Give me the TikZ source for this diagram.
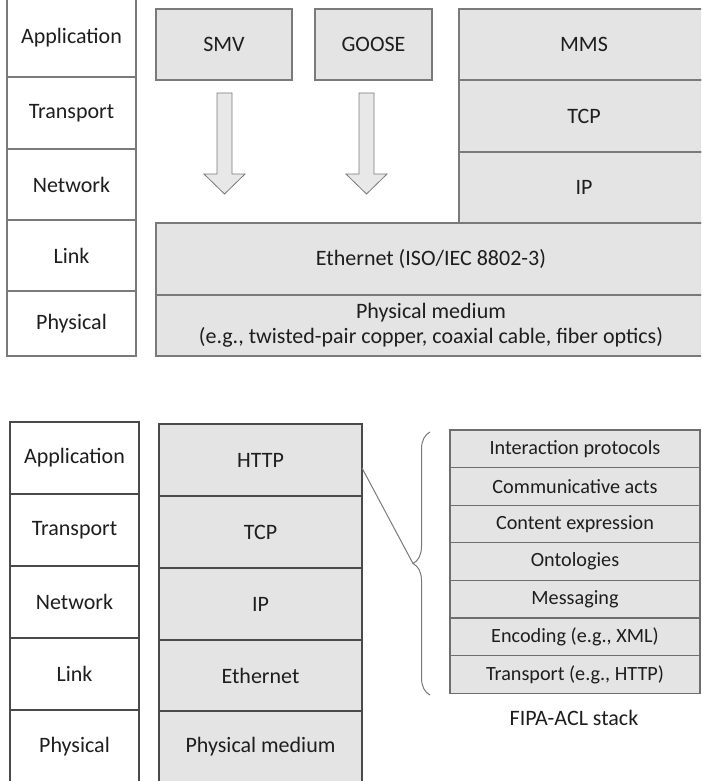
\documentclass[tikz,border=0pt]{standalone}
\usepackage{fontspec}
\setmainfont{Carlito}
\usetikzlibrary{decorations.pathreplacing,calc}
\definecolor{boxfill}{HTML}{E4E4E4}
\definecolor{arrowfill}{HTML}{E8E8E8}
\definecolor{topline}{HTML}{7A7A7A}
\definecolor{botline}{HTML}{4A4A4A}
\definecolor{txt}{HTML}{1E1E1E}
\begin{document}
\begin{tikzpicture}[x=1pt,y=-1pt,
  lay/.style={line width=1.2pt, inner sep=0pt, outer sep=0pt, anchor=north west,
    font=\fontsize{22}{25}\selectfont, text=txt, align=center},
  wbox/.style={lay, draw=topline, fill=white},
  gbox/.style={lay, draw=topline, fill=boxfill},
  wboxb/.style={lay, draw=botline, fill=white},
  gboxb/.style={lay, draw=botline, fill=boxfill},
  fipa/.style={lay, draw=botline!80, fill=boxfill, minimum width=250pt, minimum height=37.6pt,
    font=\fontsize{20.2}{23}\selectfont},
  bigarrow/.style={draw=topline, line width=0.8pt, fill=arrowfill},
]
\clip (0,0) rectangle (701,781);
\fill[color=white] (0,0) rectangle (701,781);

% ---------- top: left layer column ----------
\node[wbox, minimum width=129pt, minimum height=79pt] (tapp) at (7,-2) {Application};
\node[wbox, minimum width=129pt, minimum height=72pt] (ttra) at (7,77) {Transport};
\node[wbox, minimum width=129pt, minimum height=71pt] (tnet) at (7,149) {Network};
\node[wbox, minimum width=129pt, minimum height=71pt] (tlink) at (7,220) {Link};
\node[wbox, minimum width=129pt, minimum height=65pt] (tphy) at (7,291) {Physical};

% ---------- top: protocol boxes ----------
\node[gbox, minimum width=136pt, minimum height=71pt] (smv) at (156,9) {SMV};
\node[gbox, minimum width=117pt, minimum height=71pt] (goose) at (315,9) {GOOSE};
\node[gbox, minimum width=250pt, minimum height=71pt] (mms) at (459,9) {MMS};
\node[gbox, minimum width=250pt, minimum height=72pt] (ttcp) at (459,80) {TCP};
\node[gbox, minimum width=250pt, minimum height=71pt] (tip) at (459,152) {IP};
\node[gbox, minimum width=550pt, minimum height=72pt] (teth) at (156,223) {Ethernet (ISO/IEC 8802-3)};
\node[gbox, minimum width=550pt, minimum height=61pt] (tmed) at (156,295)
  {Physical medium\\(e.g., twisted-pair copper, coaxial cable, fiber optics)};

% hollow arrows
\draw[bigarrow] (217,93) -- (232,93) -- (232,174) -- (245,174) -- (224.5,194)
  -- (204,174) -- (217,174) -- cycle;
\draw[bigarrow] (359,93) -- (374,93) -- (374,174) -- (387,174) -- (366.5,194)
  -- (346,174) -- (359,174) -- cycle;

% ---------- bottom: left layer column ----------
\node[wboxb, minimum width=129pt, minimum height=72pt] (bapp) at (10,422) {Application};
\node[wboxb, minimum width=129pt, minimum height=72pt] (btra) at (10,494) {Transport};
\node[wboxb, minimum width=129pt, minimum height=72pt] (bnet) at (10,566) {Network};
\node[wboxb, minimum width=129pt, minimum height=72pt] (blink) at (10,638) {Link};
\node[wboxb, minimum width=129pt, minimum height=73pt] (bphy) at (10,710) {Physical};

% ---------- bottom: web stack ----------
\node[gboxb, minimum width=203pt, minimum height=72pt] (http) at (159,424) {HTTP};
\node[gboxb, minimum width=203pt, minimum height=72pt] (btcp) at (159,496) {TCP};
\node[gboxb, minimum width=203pt, minimum height=72pt] (bip) at (159,568) {IP};
\node[gboxb, minimum width=203pt, minimum height=71pt] (beth) at (159,640) {Ethernet};
\node[gboxb, minimum width=203pt, minimum height=72pt] (bmed) at (159,711) {Physical medium};

% ---------- FIPA-ACL stack ----------
\node[fipa] (f1) at (450,430) {Interaction protocols};
\node[fipa] (f2) at (450,467.6) {Communicative acts};
\node[fipa] (f3) at (450,505.2) {Content expression};
\node[fipa] (f4) at (450,542.8) {Ontologies};
\node[fipa] (f5) at (450,580.4) {Messaging};
\node[fipa] (f6) at (450,618) {Encoding (e.g., XML)};
\node[fipa] (f7) at (450,655.6) {Transport (e.g., HTTP)};
\node[font=\fontsize{22}{25}\selectfont, text=txt, inner sep=0pt] (flabel) at (574,718) {FIPA-ACL stack};

% brace and connector
\draw[draw=topline, line width=1pt, decorate, decoration={brace, amplitude=17pt}]
  (430,695) -- (430,432);
\coordinate (bracetip) at (413,563.5);
\draw[draw=topline, line width=1pt] ($(http.north east)+(0,44)$) -- (bracetip);
\end{tikzpicture}
\end{document}
